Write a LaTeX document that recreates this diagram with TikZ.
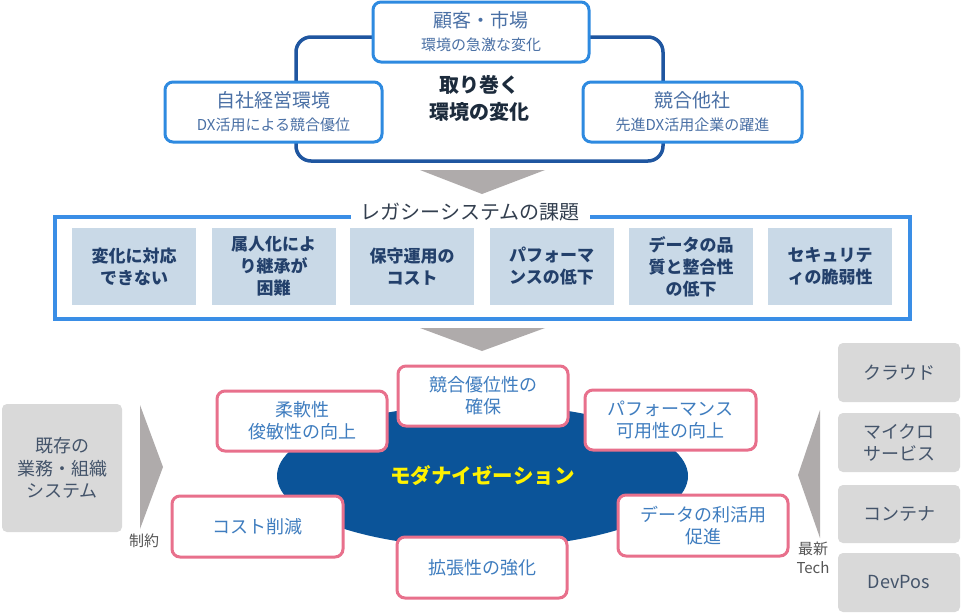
\documentclass[tikz,border=0pt]{standalone}
\usepackage{fontspec}
\setmainfont{Noto Sans CJK JP}
\usetikzlibrary{shapes.geometric}
\definecolor{lblue}{HTML}{2E8AE0}
\definecolor{dblue}{HTML}{1F56A0}
\definecolor{envtext}{HTML}{4A70A5}
\definecolor{centtext}{HTML}{1C2B3C}
\definecolor{frameblue}{HTML}{3A8EE6}
\definecolor{kfill}{HTML}{C9D9E7}
\definecolor{ktext}{HTML}{23406B}
\definecolor{titletext}{HTML}{333F4F}
\definecolor{ellblue}{HTML}{0B5499}
\definecolor{pinkline}{HTML}{E8708C}
\definecolor{ptext}{HTML}{3F7DBF}
\definecolor{gfill}{HTML}{D9D9D9}
\definecolor{gtext}{HTML}{44546A}
\definecolor{agray}{HTML}{AFABAB}
\definecolor{lbltext}{HTML}{555555}
\tikzset{
  envbox/.style={draw=lblue, line width=3pt, rounded corners=8pt, fill=white, align=center,
    text=envtext, inner sep=0pt, font={\fontsize{15}{23}\selectfont}},
  kbox/.style={fill=kfill, text=ktext, font={\bfseries\fontsize{17}{22}\selectfont}, align=center,
    inner sep=0pt, minimum width=124pt, minimum height=77pt},
  pbox/.style={draw=pinkline, line width=3pt, rounded corners=8pt, fill=white, text=ptext,
    font={\fontsize{18}{22}\selectfont}, align=center, inner sep=0pt, minimum width=170pt, minimum height=60pt},
  gbox/.style={fill=gfill, rounded corners=5pt, text=gtext, font={\fontsize{18}{22.5}\selectfont},
    align=center, inner sep=0pt},
  garrow/.style={fill=agray},
  lbl/.style={text=lbltext, font={\fontsize{15}{19}\selectfont}, align=center, inner sep=0pt},
}
\newcommand{\bigline}[1]{{\fontsize{19}{23}\selectfont #1}}
\begin{document}
\begin{tikzpicture}[x=1pt, y=-1pt]
\useasboundingbox (0,0) rectangle (961,613);
\fill[white] (0,0) rectangle (961,613);
% ---------- top section ----------
\draw[dblue, line width=3.5pt, rounded corners=15pt] (296,37) rectangle (663,161);
\node[envbox, minimum width=216pt, minimum height=60pt] (market) at (481,32)
  {\bigline{顧客・市場}\\環境の急激な変化};
\node[envbox, minimum width=217pt, minimum height=60pt] (self) at (273.5,112)
  {\bigline{自社経営環境}\\DX活用による競合優位};
\node[envbox, minimum width=219pt, minimum height=60pt] (rival) at (692.5,112)
  {\bigline{競合他社}\\先進DX活用企業の躍進};
\node[text=centtext, font={\bfseries\fontsize{20}{27}\selectfont}, align=center, inner sep=0pt]
  (env) at (479,98.5) {取り巻く\\環境の変化};
\fill[garrow] (420,170) -- (545,170) -- (482,194) -- cycle;
% ---------- middle section ----------
\draw[frameblue, line width=3.5pt] (55,217) rectangle (910,319);
\node[fill=white, text=titletext, font={\fontsize{20}{24}\selectfont}, inner xsep=10pt, inner ysep=2pt]
  (legacy) at (470,212) {レガシーシステムの課題};
\node[kbox] (k1) at (134,266.5) {変化に対応\\できない};
\node[kbox] (k2) at (273.5,266.5) {属人化によ\\り継承が\\困難};
\node[kbox] (k3) at (412,266.5) {保守運用の\\コスト};
\node[kbox] (k4) at (551.5,266.5) {パフォーマ\\ンスの低下};
\node[kbox] (k5) at (691,266.5) {データの品\\質と整合性\\の低下};
\node[kbox] (k6) at (830,266.5) {セキュリテ\\ィの脆弱性};
\fill[garrow] (420,328) -- (545,328) -- (482,351) -- cycle;
% ---------- bottom section ----------
\node[ellipse, fill=ellblue, minimum width=411pt, minimum height=143pt, inner sep=0pt,
  text=yellow, font={\bfseries\fontsize{20.5}{24}\selectfont}] (modern) at (482.5,476) {モダナイゼーション};
\node[pbox] (p1) at (483,396) {競合優位性の\\確保};
\node[pbox] (p2) at (302,421) {柔軟性\\俊敏性の向上};
\node[pbox, minimum width=171pt] (p3) at (670.5,420) {パフォーマンス\\可用性の向上};
\node[pbox, minimum width=171pt, minimum height=61pt] (p4) at (257.5,526.5) {コスト削減};
\node[pbox, minimum height=61pt] (p5) at (703,525.5) {データの利活用\\促進};
\node[pbox, minimum height=61pt] (p6) at (482,567.5) {拡張性の強化};
% left
\node[gbox, minimum width=120pt, minimum height=128pt] (legacysys) at (62,468)
  {既存の\\業務・組織\\システム};
\fill[garrow] (140,405) -- (163,467) -- (140,529) -- cycle;
\node[lbl] (seiyaku) at (144,541) {制約};
% right
\fill[garrow] (820,410) -- (798,475) -- (820,538) -- cycle;
\node[lbl] (tech) at (813,557.5) {最新\\Tech};
\node[gbox, minimum width=122pt, minimum height=59pt] (cloud) at (899,372.5) {クラウド};
\node[gbox, minimum width=122pt, minimum height=59pt] (micro) at (899,442.5) {マイクロ\\サービス};
\node[gbox, minimum width=122pt, minimum height=58pt] (container) at (899,514) {コンテナ};
\node[gbox, minimum width=122pt, minimum height=59pt] (devpos) at (899,582.5) {DevPos};
\end{tikzpicture}
\end{document}
